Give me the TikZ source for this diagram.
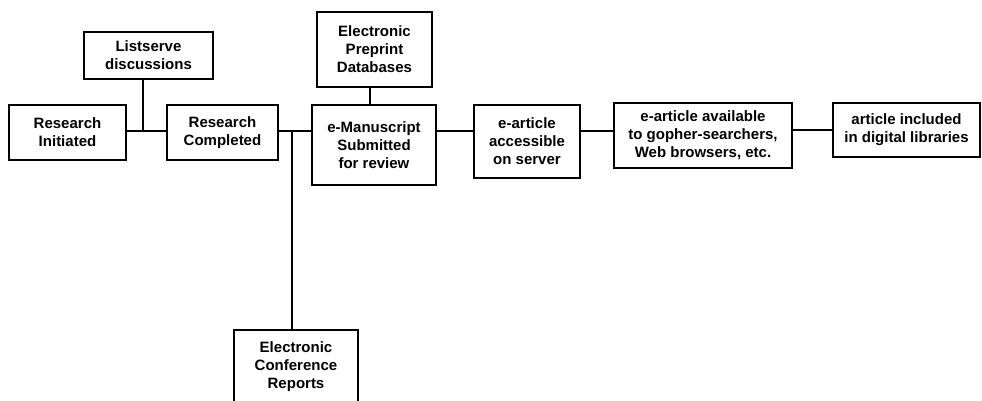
\documentclass[tikz,border=0pt]{standalone}
\usepackage{fontspec}
\setmainfont{Liberation Sans}
\begin{document}
\begin{tikzpicture}[x=1pt,y=-1pt,
  box/.style={draw, line width=1.4pt, align=center, inner sep=0pt,
    font=\fontsize{15}{18}\selectfont\bfseries},
  link/.style={line width=1.4pt}]
\useasboundingbox (0,0) rectangle (982,401);
\clip (0,0) rectangle (982,401);

% stages of the electronic publishing chain
\node[box, minimum width=117pt, minimum height=55pt] (init)  at (67.5,132.5) {Research\\Initiated};
\node[box, minimum width=129pt, minimum height=47pt] (list)  at (148.5,55.5) {Listserve\\discussions};
\node[box, minimum width=111pt, minimum height=55pt] (comp)  at (222.5,132.5) {Research\\Completed};
\node[box, minimum width=124pt, minimum height=80pt] (manu)  at (374,145) {e-Manuscript\\Submitted\\for review};
\node[box, minimum width=115pt, minimum height=75pt] (prep)  at (374.5,49.5) {Electronic\\Preprint\\Databases};
\node[box, minimum width=106pt, minimum height=73pt] (acc)   at (527,141.5) {e-article\\accessible\\on server};
\node[box, minimum width=178pt, minimum height=65pt] (avail) at (703,135.5) {e-article available\\to gopher-searchers,\\Web browsers, etc.};
\node[box, minimum width=147pt, minimum height=54pt] (incl)  at (906.5,130) {article included\\in digital libraries};
\node[box, minimum width=124pt, minimum height=74pt] (conf)  at (296,367) {Electronic\\Conference\\Reports};

% junctions on the main line
\coordinate (j1) at (143,131);
\coordinate (j2) at (292,131);

% main line
\draw[link] (init.east |- j1) -- (comp.west |- j1);
\draw[link] (comp.east |- j1) -- (manu.west |- j1);
\draw[link] (manu.east |- j1) -- (acc.west |- j1);
\draw[link] (acc.east |- j1) -- (avail.west |- j1);
\draw[link] (avail.east |- incl.west) -- (incl.west);

% side branches
\draw[link] (list.south -| j1) -- (j1);
\draw[link] (j2) -- (j2 |- conf.north);
\draw[link] (prep.south -| 370,0) -- (manu.north -| 370,0);
\end{tikzpicture}
\end{document}
